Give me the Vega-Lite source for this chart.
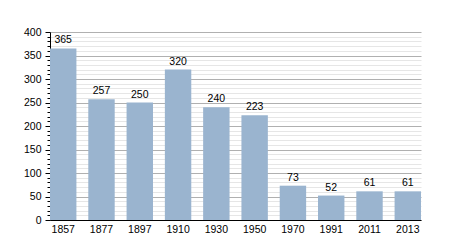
{
  "$schema": "https://vega.github.io/schema/vega-lite/v6.json",
  "autosize": "none",
  "width": 371,
  "height": 188,
  "padding": {"left": 50, "top": 32, "right": 29, "bottom": 30},
  "background": "white",
  "data": {"values": [
    {"year": "1857", "pop": 365},
    {"year": "1877", "pop": 257},
    {"year": "1897", "pop": 250},
    {"year": "1910", "pop": 320},
    {"year": "1930", "pop": 240},
    {"year": "1950", "pop": 223},
    {"year": "1970", "pop": 73},
    {"year": "1991", "pop": 52},
    {"year": "2011", "pop": 61},
    {"year": "2013", "pop": 61}
  ]},
  "config": {
    "view": {"stroke": null},
    "font": "Liberation Sans",
    "axis": {"labelFont": "Liberation Sans", "labelFontSize": 10.5, "labelColor": "#000", "domainColor": "#000"}
  },
  "encoding": {
    "x": {"field": "year", "type": "ordinal", "sort": null,
      "scale": {"paddingInner": 0.31, "paddingOuter": 0},
      "axis": {"title": null, "labelAngle": 0, "ticks": false, "labelPadding": 4, "grid": false}},
    "y": {"field": "pop", "type": "quantitative",
      "scale": {"domain": [0, 400], "nice": false},
      "axis": {"title": null,
        "values": [0,10,20,30,40,50,60,70,80,90,100,110,120,130,140,150,160,170,180,190,200,210,220,230,240,250,260,270,280,290,300,310,320,330,340,350,360,370,380,390,400],
        "labelExpr": "datum.value % 50 === 0 ? datum.label : ''",
        "grid": true,
        "gridColor": {"condition": {"test": "datum.value % 50 === 0", "value": "#b0b0b0"}, "value": "#e6e6e6"},
        "tickColor": "#000",
        "tickSize": {"condition": {"test": "datum.value % 50 === 0", "value": 5}, "value": 3},
        "labelPadding": 4}}
  },
  "layer": [
    {"mark": {"type": "bar", "color": "#9ab4cf"}},
    {"mark": {"type": "text", "baseline": "bottom", "dy": -3, "fontSize": 10.5, "font": "Liberation Sans", "color": "#000"},
      "encoding": {"text": {"field": "pop", "type": "quantitative"}}}
  ]
}
